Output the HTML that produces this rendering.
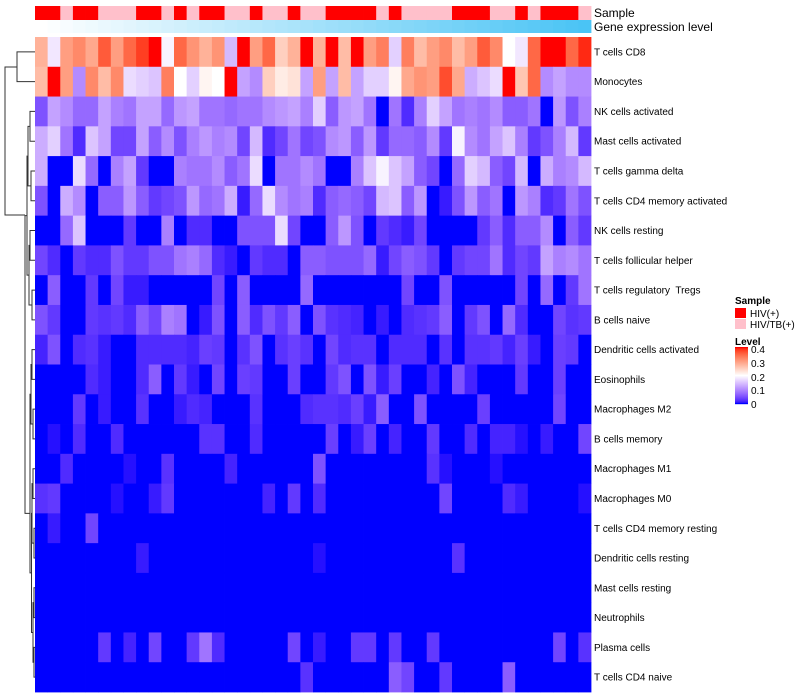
<!DOCTYPE html>
<html><head><meta charset="utf-8"><style>
body{margin:0;background:#fff;}
svg{display:block;font-family:"Liberation Sans",sans-serif;}
#labels text{white-space:pre;}
</style></head><body>
<svg id="chart" width="800" height="700" viewBox="0 0 800 700">
<g id="dendro" stroke="#333" stroke-width="1" fill="none"></g>
<g id="ann"></g>
<g id="cells"></g>
<g id="labels" font-size="10" fill="#000"></g>
<text x="594" y="17" font-size="12">Sample</text>
<text x="594" y="31" font-size="12">Gene expression level</text>
<g font-size="10">
<text x="735" y="304" font-weight="bold">Sample</text>
<rect x="735" y="308" width="11" height="10" fill="#ff0000"/>
<text x="750" y="317">HIV(+)</text>
<rect x="735" y="319" width="11" height="10" fill="#ffc0cb"/>
<text x="750" y="328">HIV/TB(+)</text>
<text x="735" y="345" font-weight="bold">Level</text>
<g id="cbar"></g>
<text x="751" y="353">0.4</text>
<text x="751" y="367">0.3</text>
<text x="751" y="381">0.2</text>
<text x="751" y="394">0.1</text>
<text x="751" y="408">0</text>
</g>
</svg>
<script>
const rowNames = ["T cells CD8","Monocytes","NK cells activated","Mast cells activated","T cells gamma delta","T cells CD4 memory activated","NK cells resting","T cells follicular helper","T cells regulatory  Tregs","B cells naive","Dendritic cells activated","Eosinophils","Macrophages M2","B cells memory","Macrophages M1","Macrophages M0","T cells CD4 memory resting","Dendritic cells resting","Mast cells resting","Neutrophils","Plasma cells","T cells CD4 naive"];
const sampleGroups = "RRPRRPPPRRPRPRRPPRPPRPPRRRRPRPPPPRRRPPRPRRRP".split("");
const geneExpr = Array.from({length:44},(_, i)=>i);
const r1 = [0.28,0.18,0.3,0.32,0.29,0.36,0.3,0.35,0.38,0.4,0.19,0.35,0.31,0.28,0.31,0.14,0.4,0.3,0.35,0.25,0.28,0.4,0.28,0.4,0.27,0.4,0.3,0.33,0.16,0.33,0.27,0.3,0.32,0.27,0.3,0.36,0.32,0.2,0.18,0.35,0.4,0.4,0.35,0.39];
const r2 = [0.27,0.4,0.3,0.1,0.32,0.27,0.32,0.17,0.16,0.15,0.33,0.2,0.16,0.21,0.2,0.4,0.12,0.1,0.25,0.22,0.23,0.12,0.3,0.12,0.27,0.12,0.16,0.16,0.21,0.29,0.31,0.3,0.37,0.29,0.13,0.15,0.17,0.4,0.26,0.35,0.1,0.12,0.1,0.1];
const r3 = [0.05,0.12,0.1,0.07,0.07,0.12,0.09,0.08,0.12,0.12,0.07,0.11,0.12,0.08,0.08,0.07,0.08,0.08,0.1,0.11,0.12,0.09,0.16,0.06,0.11,0.12,0.08,0,0.08,0.02,0.09,0.16,0.12,0.08,0.09,0.08,0.1,0.06,0.06,0.08,0,0.11,0.05,0.09];
const r4 = [0.13,0.16,0.08,0.02,0.15,0.12,0.04,0.04,0.12,0.06,0.1,0.05,0.09,0.11,0.09,0.1,0.04,0.14,0.02,0.04,0.08,0.04,0.05,0.1,0.11,0.06,0.11,0.03,0.07,0.07,0.06,0.1,0.03,0.19,0.1,0.08,0.12,0.15,0.09,0.03,0.05,0.09,0.14,0.03];
const r5 = [0.13,0,0,0.17,0.07,0,0.09,0.12,0.03,0,0,0.09,0.08,0.08,0.1,0.06,0.08,0.17,0,0.08,0.08,0.1,0.08,0,0,0.09,0.15,0.19,0.15,0.12,0.06,0.04,0,0.07,0.16,0.14,0.06,0.04,0.14,0,0.13,0.09,0.1,0.14];
const r6 = [0.05,0,0.13,0.1,0,0.06,0.06,0.11,0.06,0.03,0.04,0.05,0.11,0.07,0.08,0.13,0.01,0.07,0.17,0.1,0.08,0.09,0.02,0.06,0.07,0.06,0.04,0.14,0.15,0.06,0.11,0,0.01,0.05,0.11,0.06,0.08,0,0.11,0.09,0.02,0.03,0.08,0.05];
const r7 = [0,0,0.07,0.15,0,0,0,0.03,0,0,0.09,0,0.02,0.02,0,0,0.05,0.05,0.05,0.17,0.04,0,0,0.06,0.11,0.05,0,0.03,0.02,0.01,0.04,0,0,0,0,0.03,0.06,0.02,0.06,0.06,0.1,0,0.06,0.03];
const r8 = [0.04,0.02,0,0.03,0.02,0.02,0.05,0.03,0.03,0.05,0.05,0.08,0.09,0.07,0.02,0.01,0,0.03,0.02,0.02,0,0.06,0.06,0.05,0.05,0.05,0.07,0.01,0.04,0.06,0.05,0.03,0,0.03,0.04,0.04,0.08,0.02,0.04,0.03,0.12,0.09,0.1,0.08];
const r9 = [0,0.06,0,0,0.03,0,0.04,0.01,0.01,0,0,0,0,0,0.04,0,0.06,0,0,0,0,0.07,0,0,0,0,0,0,0,0.04,0,0,0.05,0,0,0,0,0,0.04,0,0.07,0,0.03,0.08];
const r10 = [0.05,0.03,0,0,0.03,0.025,0.03,0.02,0.06,0.04,0.09,0.08,0,0.01,0.05,0,0.06,0.02,0.05,0.03,0.06,0,0.05,0.025,0.02,0.015,0,0.01,0,0.02,0.025,0.03,0.06,0,0.03,0.05,0,0.07,0.02,0,0,0.04,0.025,0.03];
const r11 = [0.015,0.05,0,0.02,0.025,0.01,0,0,0.02,0.02,0.02,0.02,0.015,0.035,0.03,0,0.025,0.05,0,0.025,0.035,0.025,0,0.04,0.02,0.025,0.025,0,0.02,0.02,0.02,0,0.025,0,0.025,0.025,0.03,0.015,0.035,0.01,0,0.035,0.03,0];
const r12 = [0,0,0,0,0.02,0.01,0,0,0.02,0.06,0,0.03,0.01,0,0.04,0,0.035,0.03,0,0,0.035,0,0,0.03,0.05,0,0.05,0.01,0.035,0,0,0.015,0,0.05,0.015,0,0,0,0.03,0,0,0.035,0,0];
const r13 = [0,0,0,0.03,0,0.01,0,0,0.025,0,0,0.01,0.02,0.015,0,0,0,0.025,0,0,0,0.02,0.025,0.025,0.02,0.035,0.01,0.06,0,0,0.05,0,0,0,0,0.035,0,0,0,0,0,0.04,0,0];
const r14 = [0,0.005,0,0.02,0,0,0.02,0,0,0,0,0,0,0.025,0.025,0,0,0.02,0,0,0,0,0,0.035,0,0.01,0.035,0,0.015,0,0,0.03,0,0,0.02,0,0.015,0.015,0.005,0,0.01,0,0,0.04];
const r15 = [0,0,0.02,0,0,0,0,0.005,0,0,0.025,0,0,0,0,0.015,0,0,0,0,0,0,0.05,0,0,0,0,0,0,0,0,0.025,0.005,0,0,0,0.005,0,0,0,0,0,0,0];
const r16 = [0.025,0.03,0,0,0,0,0.005,0,0,0.01,0.03,0,0,0,0,0,0,0,0.015,0,0.03,0,0.02,0,0,0,0,0,0,0,0,0,0.04,0,0,0,0,0.02,0.01,0,0,0,0,0.005];
const r17 = [0,0.01,0,0,0.04,0,0,0,0,0,0,0,0,0,0,0,0,0,0,0,0,0,0,0,0,0,0,0,0,0,0,0,0,0,0,0,0,0,0,0,0,0,0,0];
const r18 = [0,0,0,0,0,0,0,0,0.01,0,0,0,0,0,0,0,0,0,0,0,0,0,0.005,0,0,0,0,0,0,0,0,0,0,0.025,0,0,0,0,0,0,0,0,0,0];
const r19 = Array(44).fill(0);
const r20 = Array(44).fill(0);
const r21 = [0,0,0,0,0,0.03,0,0.015,0,0.04,0,0,0.03,0.08,0.02,0,0,0,0,0,0.04,0,0.01,0,0,0.03,0.03,0,0.03,0,0,0.03,0,0,0,0,0,0,0,0,0,0.04,0,0.025];
const r22 = [0,0,0,0,0,0,0,0,0,0,0,0,0,0,0,0,0,0,0,0,0,0.025,0,0,0,0,0,0,0.06,0.04,0,0,0.03,0,0,0,0,0.06,0,0,0,0,0,0];
const levels = [r1,r2,r3,r4,r5,r6,r7,r8,r9,r10,r11,r12,r13,r14,r15,r16,r17,r18,r19,r20,r21,r22];

const NS="http://www.w3.org/2000/svg";
const X0=35, X1=591, Y0=37, Y1=692;
const nC=44, nR=rowNames.length;
const cw=(X1-X0)/nC, rh=(Y1-Y0)/nR;
const xPos=i=>X0+i*cw, yPos=j=>Y0+j*rh;

function toLin(c){c/=255;return c<=0.04045?c/12.92:Math.pow((c+0.055)/1.055,2.4);}
function fromLin(c){c=c<=0.0031308?12.92*c:1.055*Math.pow(c,1/2.4)-0.055;return Math.max(0,Math.min(255,Math.round(c*255)));}
function rgb2lab(r,g,b){r=toLin(r);g=toLin(g);b=toLin(b);
 let x=(r*0.4124+g*0.3576+b*0.1805)/0.95047,y=(r*0.2126+g*0.7152+b*0.0722),z=(r*0.0193+g*0.1192+b*0.9505)/1.08883;
 const f=t=>t>0.008856?Math.cbrt(t):7.787*t+16/116;
 x=f(x);y=f(y);z=f(z);return [116*y-16,500*(x-y),200*(y-z)];}
function lab2rgb(L,a,bb){let y=(L+16)/116,x=a/500+y,z=y-bb/200;
 const fi=t=>t*t*t>0.008856?t*t*t:(t-16/116)/7.787;
 x=fi(x)*0.95047;y=fi(y);z=fi(z)*1.08883;
 const r=x*3.2406+y*-1.5372+z*-0.4986,g=x*-0.9689+y*1.8758+z*0.0415,b=x*0.0557+y*-0.2040+z*1.0570;
 return `rgb(${fromLin(r)},${fromLin(g)},${fromLin(b)})`;}
const LB=rgb2lab(0,0,255),LW=rgb2lab(255,255,255),LR=rgb2lab(255,0,0);
function col(v){v=Math.max(0,Math.min(0.4,v));let A,B,t;
 if(v<=0.2){A=LB;B=LW;t=v/0.2;}else{A=LW;B=LR;t=(v-0.2)/0.2;}
 return lab2rgb(A[0]+(B[0]-A[0])*t,A[1]+(B[1]-A[1])*t,A[2]+(B[2]-A[2])*t);}

const cells=document.getElementById('cells');
levels.forEach((row,j)=>row.forEach((v,i)=>{
 const r=document.createElementNS(NS,'rect');
 r.setAttribute('x',xPos(i));r.setAttribute('y',yPos(j));
 r.setAttribute('width',cw+0.4);r.setAttribute('height',rh+0.4);
 r.setAttribute('fill',col(v));
 
 
 cells.appendChild(r);
}));
const labels=document.getElementById('labels');
rowNames.forEach((n,j)=>{
 const t=document.createElementNS(NS,'text');
 t.setAttribute('x',594);t.setAttribute('y',yPos(j)+rh/2+3.5);t.textContent=n;
 t.setAttribute('xml:space','preserve');
 
 
 labels.appendChild(t);
});
const ann=document.getElementById('ann');
const maxG=Math.max(...geneExpr);
sampleGroups.forEach((g,i)=>{
 const r=document.createElementNS(NS,'rect');
 r.setAttribute('x',xPos(i));r.setAttribute('y',6);r.setAttribute('width',cw+0.4);r.setAttribute('height',14);
 r.setAttribute('fill',g==='R'?'#ff0000':'#ffc0cb');
 
 
 ann.appendChild(r);
 const e=document.createElementNS(NS,'rect');
 const t=geneExpr[i]/maxG;
 const c=`rgb(${Math.round(255-(255-74)*t)},${Math.round(255-(255-196)*t)},${Math.round(255-(255-245)*t)})`;
 e.setAttribute('x',xPos(i));e.setAttribute('y',20);e.setAttribute('width',cw+0.4);e.setAttribute('height',13);
 e.setAttribute('fill',c);
 
 
 ann.appendChild(e);
});
const cb=document.getElementById('cbar');
for(let k=0;k<57;k++){const v=0.4*(1-k/56);
 const r=document.createElementNS(NS,'rect');
 r.setAttribute('x',735);r.setAttribute('y',347+k);r.setAttribute('width',13);r.setAttribute('height',1.2);r.setAttribute('fill',col(v));
 
 
 cb.appendChild(r);}
const d=document.getElementById('dendro');
const cy=j=>yPos(j)+rh/2;
function seg(x,ya,yb,xa,xb){const l=document.createElementNS(NS,'path');
 l.setAttribute('d',`M${xa} ${ya}H${x}V${yb}H${xb}`);
 
 
 d.appendChild(l);}
seg(17,cy(0),cy(1),35,35);
seg(5,52+15,215,17,25);
seg(30,cy(2),cy(3),35,35);
seg(31,cy(4),cy(5),35,35);
seg(28,(cy(2)+cy(3))/2,(cy(4)+cy(5))/2,30,31);
seg(30,cy(6),cy(7),35,35);
seg(32,cy(8),cy(9),35,35);
seg(29,(cy(6)+cy(7))/2,(cy(8)+cy(9))/2,30,32);
seg(27,(cy(2)+cy(5))/2,(cy(6)+cy(9))/2,28,29);
seg(32,cy(10),cy(11),35,35);
seg(33,cy(12),cy(13),35,35);
seg(31,(cy(10)+cy(11))/2,(cy(12)+cy(13))/2,32,33);
seg(33,cy(14),cy(15),35,35);
seg(34,cy(16),cy(17),35,35);
seg(32,(cy(14)+cy(15))/2,(cy(16)+cy(17))/2,33,34);
seg(34,cy(18),cy(19),35,35);
seg(34,cy(20),cy(21),35,35);
seg(33,(cy(18)+cy(19))/2,(cy(20)+cy(21))/2,34,34);
seg(31.5,(cy(14)+cy(17))/2,(cy(18)+cy(21))/2,32,33);
seg(30,(cy(10)+cy(13))/2,(cy(14)+cy(21))/2,31,31.5);
seg(25,(cy(2)+cy(9))/2,(cy(10)+cy(21))/2,27,30);
</script>
</body></html>
